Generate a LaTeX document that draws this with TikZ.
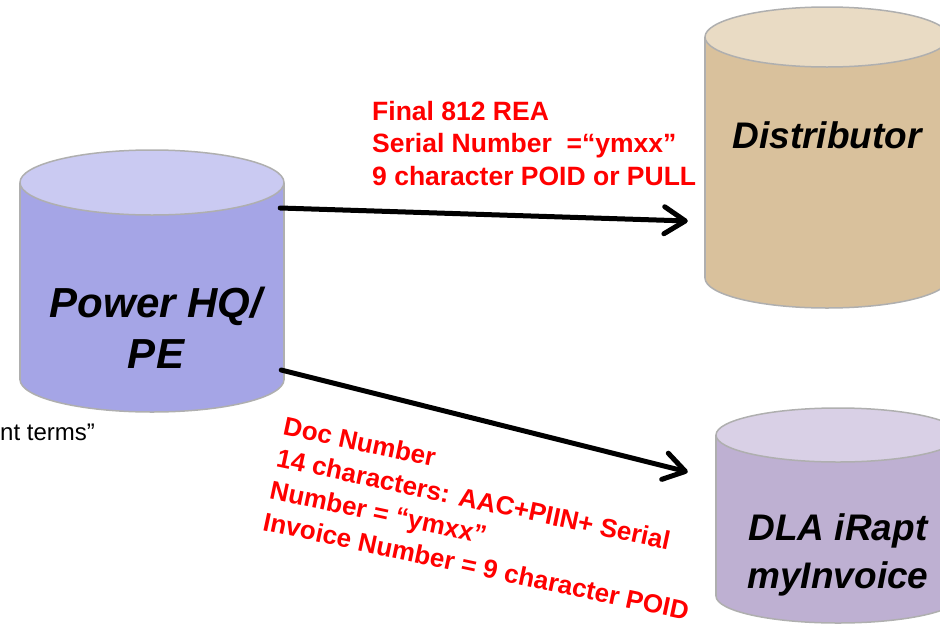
\documentclass[tikz,border=0pt]{standalone}
\usepackage{fontspec}
\setmainfont{Liberation Sans}
\usetikzlibrary{calc,arrows.meta}
\definecolor{phqbody}{RGB}{165,165,230}
\definecolor{phqtop}{RGB}{202,202,242}
\definecolor{distbody}{RGB}{217,193,156}
\definecolor{disttop}{RGB}{233,219,196}
\definecolor{dlabody}{RGB}{190,176,210}
\definecolor{dlatop}{RGB}{217,208,230}
\definecolor{cylgray}{RGB}{175,175,175}
\tikzset{
  cylline/.style={draw=cylgray, line width=1.5pt},
  dbtext/.style={font=\fontsize{37}{48}\selectfont\bfseries\itshape, align=center, inner sep=0},
  redtext/.style={font=\fontsize{26.5}{32.5}\selectfont\bfseries, text=red, align=left, inner sep=0},
  flow/.style={line width=5pt, line cap=round, -{Straight Barb[length=21pt,width=27pt,round]}}
}
% name, cx, top y, bottom y, rx, ry, body colour, top colour
\newcommand{\dbcylinder}[8]{%
  \draw[cylline, fill=#7] (#2,#4) ellipse ({#5} and {#6});
  \fill[#7] (#2-#5,#3) rectangle (#2+#5,#4);
  \draw[cylline] (#2-#5,#3) -- (#2-#5,#4) (#2+#5,#3) -- (#2+#5,#4);
  \draw[cylline, fill=#8] (#2,#3) ellipse ({#5} and {#6});
  \path (#2,{(#3+#4)/2}) node[inner sep=0, minimum width={2*#5}, minimum height={#4-#3+2*#6}] (#1) {};
}

\begin{document}
\begin{tikzpicture}[x=1pt, y=-1pt]
	\useasboundingbox (0,0) rectangle (940,627);
	\clip (0,0) rectangle (940,627);
	
	\dbcylinder{phq}{152}{182.5}{379.5}{132}{32.5}{phqbody}{phqtop}
	\dbcylinder{dist}{827}{37}{278}{122}{30}{distbody}{disttop}
	\dbcylinder{dla}{838}{435}{596}{122}{27}{dlabody}{dlatop}
	
	\node[dbtext, font=\fontsize{42}{51}\selectfont\bfseries\itshape] (phqlabel) at (156,328) {Power HQ/\\PE};
	\node[dbtext, anchor=base] (distlabel) at (827,148) {Distributor};
	\node[dbtext] (dlalabel) at (838,555) {DLA iRapt\\myInvoice};
	
	\draw[flow] ($(phq.east)+(-4,-73)$) -- ($(dist.west)+(-17,63.5)$);
	\draw[flow] ($(phq.east)+(-3,89)$) -- ($(dla.west)+(-28,-43.5)$);
	
	\node[redtext, anchor=north west] (reaspec) at (372,101) {Final 812 REA\\Serial Number\ \ =“ymxx”\\9 character POID or PULL};
	\node[redtext, font=\fontsize{26}{32.5}\selectfont\bfseries, anchor=north west, rotate=-12] (docspec) at (286,416) {Doc Number\\14 characters: AAC+PIIN+ Serial\\Number = “ymxx”\\Invoice Number = 9 character POID};
	
	\node[font=\fontsize{24}{29}\selectfont, anchor=base west, inner sep=0] (terms) at (0,440) {nt terms”};
\end{tikzpicture}
\end{document}
